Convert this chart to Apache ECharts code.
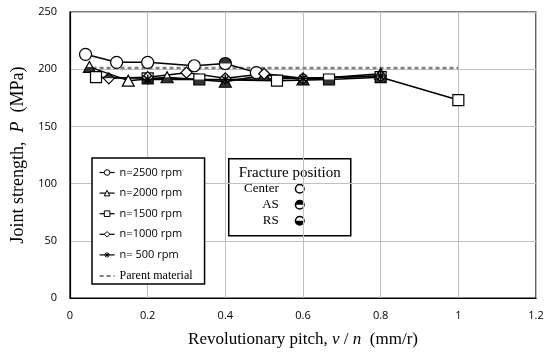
<!DOCTYPE html>
<html>
<head>
<meta charset="utf-8">
<script src="https://cdn.jsdelivr.net/npm/echarts@6/dist/echarts.min.js"></script>
<style>
  html, body { margin: 0; padding: 0; background: #fff; }
  #main { width: 548px; height: 355px; }
</style>
</head>
<body>
<div id="main"></div>
<script>
// revolutionary pitch v/n (mm/r) and joint strength (MPa) per rotation speed
var x2500 = [0.04, 0.12, 0.2, 0.32, 0.4, 0.48];
var y2500 = [213, 206, 206, 203, 205, 197];
var f2500 = ['C', 'C', 'C', 'C', 'AS', 'C'];

var x2000 = [0.05, 0.15, 0.25, 0.4, 0.5, 0.6, 0.8];
var y2000 = [202, 190, 193, 189, 195, 191, 196];
var f2000 = ['RS', 'C', 'RS', 'RS', 'RS', 'RS', 'C'];

var x1500 = [0.067, 0.2, 0.333, 0.533, 0.667, 0.8, 1.0];
var y1500 = [193, 192, 191, 190, 191, 193, 173];
var f1500 = ['C', 'RS', 'RS', 'C', 'RS', 'RS', 'C'];

var x1000 = [0.1, 0.2, 0.3, 0.4, 0.5, 0.6, 0.8];
var y1000 = [192, 193, 197, 192, 196, 192, 194];
var f1000 = ['AS', 'C', 'C', 'C', 'C', 'C', 'C'];

var x500 = [0.2, 0.4, 0.6, 0.8];
var y500 = [191, 191, 192, 194];

var xParent = [0.04, 1.0];
var yParent = [201, 201];

var serif = "'Liberation Serif', 'DejaVu Serif', serif";
var sans = "'Open Sans', 'Liberation Sans', sans-serif";

var chart = echarts.init(document.getElementById('main'));

function pts(xs, ys) {
  return xs.map(function (x, i) { return [x, ys[i]]; });
}

// half-black fill shapes laid over the open markers (AS = upper half, RS = lower half)
var halves = {
  circle: {
    w: 12, h: 12,
    AS: 'path://M-1,0A1,1,0,0,1,1,0Z',
    RS: 'path://M-1,0A1,1,0,0,0,1,0Z'
  },
  triangle: {
    w: 12, h: 11,
    AS: 'triangle',
    RS: 'path://M-0.5,0L0.5,0L1,1L-1,1Z'
  },
  rect: {
    w: 11, h: 11,
    AS: 'rect',
    RS: 'rect'
  },
  diamond: {
    w: 11, h: 11,
    AS: 'triangle',
    RS: 'path://M-1,0L1,0L0,1Z'
  }
};

function fillSeries(name, shape, xs, ys, fr) {
  var h = halves[shape];
  var data = [];
  fr.forEach(function (f, i) {
    if (f === 'C') return;
    var w = h.w;
    if (shape === 'triangle' && f === 'AS') w = h.w / 2;
    data.push({
      value: [xs[i], ys[i]],
      symbol: h[f],
      symbolSize: [w, h.h / 2],
      symbolOffset: [0, f === 'AS' ? -h.h / 4 : h.h / 4]
    });
  });
  return {
    name: name + ' fill',
    type: 'scatter',
    data: data,
    itemStyle: { color: '#000', borderWidth: 0 },
    silent: true,
    z: 3
  };
}

function lineSeries(name, symbol, size, xs, ys) {
  return {
    name: name,
    type: 'line',
    data: pts(xs, ys),
    symbol: symbol,
    symbolSize: size,
    showAllSymbol: true,
    lineStyle: { color: '#000', width: 1.5 },
    itemStyle: { color: '#fff', borderColor: '#000', borderWidth: 1.2 },
    z: 3
  };
}

var star = 'path://M0,-1L0,1M-1,0L1,0M-0.7,-0.7L0.7,0.7M-0.7,0.7L0.7,-0.7';

var series = [
  {
    name: 'Parent material',
    type: 'line',
    data: pts(xParent, yParent),
    symbol: 'none',
    lineStyle: { color: '#808080', width: 2.5, type: [4, 3] },
    itemStyle: { color: '#808080' },
    z: 2
  },
  lineSeries('n=2500 rpm', 'circle', 12, x2500, y2500),
  fillSeries('n=2500 rpm', 'circle', x2500, y2500, f2500),
  lineSeries('n=2000 rpm', 'triangle', [12, 11], x2000, y2000),
  fillSeries('n=2000 rpm', 'triangle', x2000, y2000, f2000),
  lineSeries('n=1500 rpm', 'rect', 11, x1500, y1500),
  fillSeries('n=1500 rpm', 'rect', x1500, y1500, f1500),
  lineSeries('n=1000 rpm', 'diamond', 11, x1000, y1000),
  fillSeries('n=1000 rpm', 'diamond', x1000, y1000, f1000),
  {
    name: 'n= 500 rpm',
    type: 'line',
    data: pts(x500, y500),
    symbol: star,
    symbolSize: 10,
    showAllSymbol: true,
    lineStyle: { color: '#000', width: 1.5 },
    itemStyle: { color: '#000', borderColor: '#000', borderWidth: 1.6 },
    z: 3
  }
];

var option = {
  animation: false,
  backgroundColor: '#fff',
  grid: {
    left: 70, top: 12, right: 12, bottom: 57,
    show: true, borderColor: '#000', borderWidth: 1.2
  },
  xAxis: {
    type: 'value',
    min: 0, max: 1.2, interval: 0.2,
    name: 'Revolutionary pitch, {i|v} / {i|n}  (mm/r)',
    nameLocation: 'middle',
    nameGap: 33,
    nameTextStyle: {
      fontFamily: serif, fontSize: 17, color: '#000',
      rich: { i: { fontFamily: serif, fontSize: 17, fontStyle: 'italic', color: '#000' } }
    },
    axisLine: { lineStyle: { color: '#000', width: 1.2 } },
    axisTick: { show: false },
    axisLabel: { fontFamily: sans, fontSize: 11, color: '#000', margin: 12 },
    splitLine: { lineStyle: { color: '#c0c0c0', width: 1 } }
  },
  yAxis: {
    type: 'value',
    min: 0, max: 250, interval: 50,
    name: 'Joint strength,  {i|P}  (MPa)',
    nameLocation: 'middle',
    nameGap: 39,
    nameTextStyle: {
      fontFamily: serif, fontSize: 18, color: '#000',
      rich: { i: { fontFamily: serif, fontSize: 18, fontStyle: 'italic', color: '#000' } }
    },
    axisLine: { show: true, lineStyle: { color: '#000', width: 1.2 } },
    axisTick: { show: false },
    axisLabel: { fontFamily: sans, fontSize: 11, color: '#000', margin: 13 },
    splitLine: { lineStyle: { color: '#c0c0c0', width: 1 } }
  },
  legend: {
    orient: 'vertical',
    left: 92, top: 158,
    padding: [9, 12, 2, 7],
    itemGap: 9.6,
    itemWidth: 15,
    itemHeight: 7,
    backgroundColor: '#fff',
    borderColor: '#000',
    borderWidth: 1.5,
    borderRadius: 0,
    itemStyle: { borderWidth: 1 },
    lineStyle: { width: 1.2 },
    textStyle: { fontFamily: sans, fontSize: 11, color: '#000' },
    data: [
      'n=2500 rpm', 'n=2000 rpm', 'n=1500 rpm', 'n=1000 rpm', 'n= 500 rpm',
      {
        name: 'Parent material',
        itemStyle: { opacity: 0 },
        lineStyle: { color: '#000', width: 1.2, type: [4, 3] },
        textStyle: { fontFamily: serif, fontSize: 12 }
      }
    ]
  },
  graphic: [
    {
      type: 'group', left: 228, top: 158,
      children: [
        { type: 'rect', shape: { x: 0, y: 0, width: 122, height: 77 },
          style: { fill: '#fff', stroke: '#000', lineWidth: 1.5 } },
        { type: 'text', x: 61, y: 14,
          style: { text: 'Fracture position', font: '15px ' + serif, fill: '#000', align: 'center', verticalAlign: 'middle' } },
        { type: 'text', x: 50, y: 30,
          style: { text: 'Center', font: '13px ' + serif, fill: '#000', align: 'right', verticalAlign: 'middle' } },
        { type: 'text', x: 50, y: 46,
          style: { text: 'AS', font: '13px ' + serif, fill: '#000', align: 'right', verticalAlign: 'middle' } },
        { type: 'text', x: 50, y: 62,
          style: { text: 'RS', font: '13px ' + serif, fill: '#000', align: 'right', verticalAlign: 'middle' } },
        { type: 'circle', shape: { cx: 71, cy: 30, r: 4.3 }, style: { fill: '#fff', stroke: '#000', lineWidth: 1.5 } },
        { type: 'circle', shape: { cx: 71, cy: 46, r: 4.3 }, style: { fill: '#fff', stroke: '#000', lineWidth: 1.5 } },
        { type: 'sector', shape: { cx: 71, cy: 46, r: 4.3, r0: 0, startAngle: Math.PI, endAngle: Math.PI * 2, clockwise: true }, style: { fill: '#000' } },
        { type: 'circle', shape: { cx: 71, cy: 62, r: 4.3 }, style: { fill: '#fff', stroke: '#000', lineWidth: 1.5 } },
        { type: 'sector', shape: { cx: 71, cy: 62, r: 4.3, r0: 0, startAngle: 0, endAngle: Math.PI, clockwise: true }, style: { fill: '#000' } }
      ]
    }
  ],
  series: series
};

chart.setOption(option);
</script>
</body>
</html>
